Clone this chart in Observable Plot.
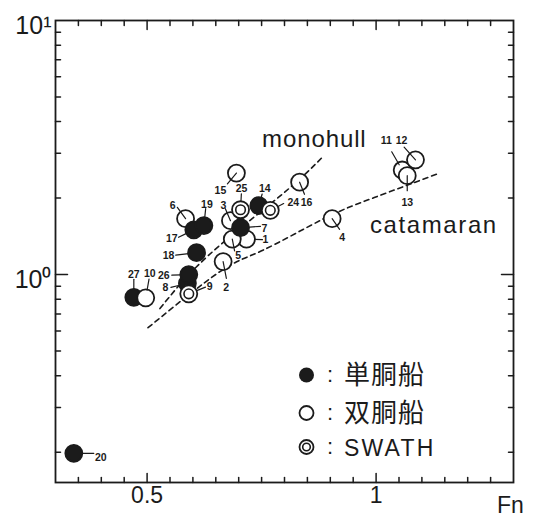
<!DOCTYPE html>
<html><head><meta charset="utf-8">
<script src="https://cdn.jsdelivr.net/npm/d3@7"></script>
<script src="https://cdn.jsdelivr.net/npm/@observablehq/plot@0.6"></script>
<style>
html,body{margin:0;padding:0;background:#fff;}
#chart{width:535px;height:519px;}
svg{display:block;}
</style></head><body><div id="chart"></div>
<script>
// ship numbers in drawing order
const shipNo = [27, 20, 1, 2, 3, 4, 5, 6, 10, 11, 13, 12, 15, 16, 7, 8, 14, 17, 18, 19, 26, 9, 24, 25];
// Froude number
const fn = [0.471, 0.340, 0.717, 0.666, 0.682, 0.904, 0.686, 0.584, 0.497, 1.057, 1.068, 1.086, 0.695, 0.833, 0.704, 0.588, 0.744, 0.602, 0.608, 0.624, 0.591, 0.591, 0.769, 0.704];
// vertical value (log axis)
const ratio = [0.814, 0.198, 1.38, 1.125, 1.63, 1.66, 1.38, 1.66, 0.81, 2.58, 2.45, 2.83, 2.51, 2.31, 1.53, 0.924, 1.87, 1.50, 1.22, 1.56, 1.0, 0.84, 1.79, 1.80];
// hull type
const hull = ["mono", "mono", "cat", "cat", "cat", "cat", "cat", "cat", "cat", "cat", "cat", "cat", "cat", "cat", "mono", "mono", "mono", "mono", "mono", "mono", "mono", "swath", "swath", "swath"];

// dashed trend lines
const monoFn = [0.528, 0.634, 0.792, 0.883];
const monoVal = [0.735, 1.19, 2.05, 2.90];
const catFn = [0.502, 0.660, 0.754, 0.886, 0.996, 1.136];
const catVal = [0.618, 1.03, 1.25, 1.66, 2.01, 2.50];

// tick values
const xMajor = [0.5, 1];
const xMinor = [0.35, 0.4, 0.45, 0.55, 0.6, 0.65, 0.7, 0.75, 0.8, 0.85, 0.9, 0.95, 1.05, 1.1, 1.15, 1.2, 1.25];
const yMajor = [1];
const yMinor = [0.2, 0.3, 0.4, 0.5, 0.6, 0.7, 0.8, 0.9, 2, 3, 4, 5, 6, 7, 8, 9];
const yLabels = [1, 10];
const yLabelText = ["10\u2070", "10\u00B9"];

// legend texts
const legendText = ["単胴船", "双胴船", "SWATH"];

// label layout: [ship, leader angle, leader start px, leader end px, label dx, label dy]
const labelLayout = [
  [1, 92, 8, 16, 19, 1], [2, 169, 0, 17, 3, 26], [3, -23, 0, 13, -7, -15], [4, 145, 0, 13, 10, 19],
  [5, 169, 0, 12, 6, 17], [6, -36, 0, 14, -13, -13], [7, 86, 9, 20, 24, 1], [8, 256, 8, 17, -22, 4],
  [9, 68, 8, 18, 21, -7], [10, 10, 8, 19, 4, -24], [11, -30, 6, 21, -16, -29], [12, -42, 0, 17, -14, -19],
  [13, 180, 0, 15, 0, 27], [14, 16, 0, 12, 6, -17], [15, 220, 0, 14, -16, 18], [16, 158, 0, 13, 7, 20],
  [17, 244, 8, 17, -22, 9], [18, 263, 8, 21, -28, 3], [19, 6, 8, 17, 3, -21], [20, 90, 8, 20, 27, 4],
  [24, 63, 8, 15, 23, -8], [25, 3, 9, 16, 1, -21], [26, 268, 8, 17, -25, 1], [27, 0, 8, 18, 0, -23]
];

const rows = shipNo.map((id, i) => ({id, fn: fn[i], ratio: ratio[i], hull: hull[i]}));
const byId = new Map(rows.map(d => [d.id, d]));
const monoLine = monoFn.map((x, i) => ({x, y: monoVal[i]}));
const catLine = catFn.map((x, i) => ({x, y: catVal[i]}));

const ink = "#1b1b1b";
const segShape = {draw(ctx, l, r) { ctx.moveTo(0, -r); ctx.lineTo(0, -l); }};
const tick = (data, ch, anchor, rotate, len) => Plot.vector(data, {
  [ch]: d => d, frameAnchor: anchor, length: len, rotate, r: 0, anchor: "start",
  shape: segShape, stroke: ink, strokeWidth: 1.5
});

const leaders = (pred) => labelLayout.filter(l => pred(byId.get(l[0]))).map(([id, a, r0, r1]) =>
  Plot.vector([byId.get(id)], {x: "fn", y: "ratio", rotate: a, length: r1, r: r0, anchor: "start",
    shape: segShape, stroke: ink, strokeWidth: 1.2}));
const labels = labelLayout.map(([id, a, r0, r1, dx, dy]) =>
  Plot.text([byId.get(id)], {x: "fn", y: "ratio", text: d => String(d.id), dx, dy,
    fontSize: 10.5, fontWeight: "bold", fill: ink}));

const plot = Plot.plot({
  width: 535, height: 519,
  marginLeft: 55, marginRight: 22, marginTop: 20, marginBottom: 37,
  x: {domain: [0.3, 1.3], axis: null},
  y: {type: "log", domain: [0.152, 10], axis: null},
  style: {background: "white", fontFamily: "'Liberation Sans', Arial, sans-serif", color: ink},
  marks: [
    Plot.line(monoLine, {x: "x", y: "y", curve: "natural", stroke: ink, strokeWidth: 1.6, strokeDasharray: "5,4"}),
    Plot.line(catLine, {x: "x", y: "y", curve: "natural", stroke: ink, strokeWidth: 1.6, strokeDasharray: "5,4"}),
    ...leaders(d => d.hull !== "cat"),
    Plot.dot(rows, {x: "fn", y: "ratio", r: 8.5, fill: d => d.hull === "mono" ? ink : "white", stroke: ink, strokeWidth: 1.8}),
    Plot.dot(rows.filter(d => d.hull === "swath"), {x: "fn", y: "ratio", r: 4.8, fill: "none", stroke: ink, strokeWidth: 1.6}),
    ...leaders(d => d.hull === "cat"),
    ...labels,
    Plot.frame({stroke: ink, strokeWidth: 1.8}),
    tick(yMinor, "y", "left", 90, 5), tick(yMinor, "y", "right", 270, 5),
    tick(yMajor, "y", "left", 90, 12), tick(yMajor, "y", "right", 270, 12),
    tick(xMinor, "x", "bottom", 0, 5), tick(xMinor, "x", "top", 180, 5),
    tick(xMajor, "x", "bottom", 0, 9), tick(xMajor, "x", "top", 180, 9),
    Plot.text(yLabels, {y: d => d, frameAnchor: "left", text: (d, i) => yLabelText[i], textAnchor: "end", dx: -4, dy: 5, fontSize: 25, fill: ink}),
    Plot.text(xMajor, {x: d => d, frameAnchor: "bottom", text: d => String(d), dy: 20, fontSize: 23, fill: ink})
  ]
});
document.getElementById("chart").appendChild(plot);

const svg = d3.select(plot);
const font = "'Liberation Sans', Arial, sans-serif";
const addText = (x, y, size, t, fam = font) => svg.append("text").attr("x", x).attr("y", y)
  .attr("font-size", size).attr("font-family", fam).attr("fill", ink).attr("text-anchor", "start").text(t);
addText(497, 513, 23, "Fn");
addText(262, 147, 24, "monohull").attr("letter-spacing", 0.9);
addText(370, 233, 24, "catamaran").attr("letter-spacing", 1.6);

// legend
const lg = svg.append("g");
const rowsY = [375, 413, 447];
lg.append("circle").attr("cx", 306.5).attr("cy", rowsY[0]).attr("r", 7.5).attr("fill", ink);
lg.append("circle").attr("cx", 306.5).attr("cy", rowsY[1]).attr("r", 7).attr("fill", "white").attr("stroke", ink).attr("stroke-width", 1.8);
lg.append("circle").attr("cx", 306.5).attr("cy", rowsY[2]).attr("r", 7).attr("fill", "white").attr("stroke", ink).attr("stroke-width", 1.8);
lg.append("circle").attr("cx", 306.5).attr("cy", rowsY[2]).attr("r", 3.8).attr("fill", "none").attr("stroke", ink).attr("stroke-width", 1.6);
legendText.forEach((t, i) => {
  addText(327, rowsY[i] + 7, 22, ":");
  const cjk = i < 2;
  addText(344, rowsY[i] + (cjk ? 9 : 8.5), cjk ? 26 : 23, t, cjk ? "'Noto Sans CJK JP', sans-serif" : font)
    .attr("letter-spacing", cjk ? 1 : 2.2);
});
</script></body></html>
